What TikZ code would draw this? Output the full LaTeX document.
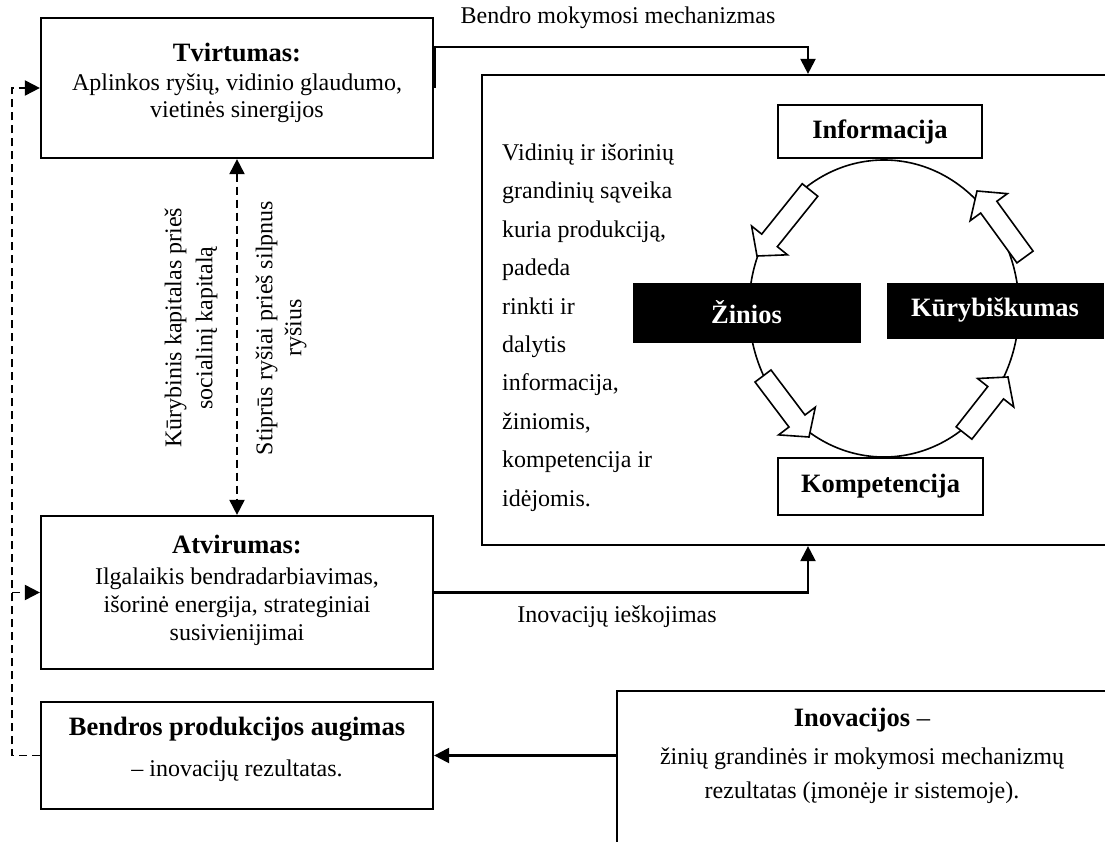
\documentclass[tikz,border=0pt]{standalone}
\usepackage{fontspec}
\setmainfont{Liberation Serif}
\usetikzlibrary{arrows.meta,calc}

% hollow block arrow from tail coordinate #1 to tip coordinate #2
\newcommand\blockarrow[2]{%
  \coordinate (ba-s) at ($(#2)!20pt!(#1)$);
  \draw[blockline]
    ($(#1)!10pt!90:(#2)$) -- ($(ba-s)!10pt!-90:(#1)$) -- ($(ba-s)!23pt!-90:(#1)$) --
    (#2) --
    ($(ba-s)!23pt!90:(#1)$) -- ($(ba-s)!10pt!90:(#1)$) -- ($(#1)!10pt!-90:(#2)$) -- cycle;
}

\begin{document}
\begin{tikzpicture}[x=1pt,y=-1pt,
  box/.style={draw, line width=2.2pt, inner sep=0pt, fill=white},
  darkbox/.style={draw, fill=black, inner sep=0pt, text=white,
    font=\fontsize{26.5}{30}\selectfont\bfseries},
  title/.style={inner sep=0pt, font=\fontsize{26.5}{30}\selectfont\bfseries},
  body/.style={inner sep=0pt, align=center, font=\fontsize{24}{28}\selectfont},
  link/.style={line width=2.2pt},
  dashlink/.style={line width=1.9pt, dash pattern=on 8pt off 5pt},
  blockline/.style={line width=1.6pt, fill=white, line join=miter},
  >={Triangle[length=15pt,width=15pt]}]

\useasboundingbox (0,0) rectangle (1105,842);
\clip (0,0) rectangle (1105,842);

% left column of boxes
\node[box, minimum width=392, minimum height=140] (tv) at (237,88) {};
\node[title] (tvt) at (237,52) {Tvirtumas:};
\node[body] (tvb) at (237,98.5) {Aplinkos ryšių, vidinio glaudumo,\\[-1pt] vietinės sinergijos};

\node[box, minimum width=392, minimum height=153] (at) at (237,592.5) {};
\node[title] (att) at (237,544) {Atvirumas:};
\node[body] (atb) at (237,606.5) {Ilgalaikis bendradarbiavimas,\\ išorinė energija, strateginiai\\ susivienijimai};

\node[box, minimum width=392, minimum height=107] (bp) at (237,755.5) {};
\node[title] (bpt) at (237,729) {Bendros produkcijos augimas};
\node[body] (bpb) at (237,771) {– inovacijų rezultatas.};

% learning system box
\node[box, minimum width=652, minimum height=470] (bb) at (808,310) {};
\node[inner sep=0pt, anchor=west, align=left, font=\fontsize{24}{38.4}\selectfont] (txt) at (502,327.5)
  {Vidinių ir išorinių\\ grandinių sąveika\\ kuria produkciją,\\ padeda\\ rinkti ir\\ dalytis\\ informacija,\\ žiniomis,\\ kompetencija ir\\ idėjomis.};

\draw[line width=1.6pt] (884,308.5) ellipse [x radius=135, y radius=148.5];
\node[box, line width=1.8pt, minimum width=204, minimum height=53, font=\fontsize{26.5}{30}\selectfont\bfseries] (inf) at (880,131.5) {Informacija};
\node[box, line width=1.8pt, minimum width=205, minimum height=57, font=\fontsize{26.5}{30}\selectfont\bfseries] (komp) at (880.5,486.5) {Kompetencija};
\node[darkbox, minimum width=227, minimum height=59] (zin) at (746.5,312.5) {Žinios};
\node[darkbox, minimum width=216, minimum height=55] (kur) at (995,310.5) {Kūrybiškumas};

\coordinate (a1t) at (810,190); \coordinate (a1h) at (757,256);
\coordinate (a2t) at (1025,257); \coordinate (a2h) at (977,191);
\coordinate (a3t) at (763,376); \coordinate (a3h) at (809,437);
\coordinate (a4t) at (964,433); \coordinate (a4h) at (1008,377);
\blockarrow{a1t}{a1h}
\blockarrow{a2t}{a2h}
\blockarrow{a3t}{a3h}
\blockarrow{a4t}{a4h}

% innovation box
\node[box, minimum width=523, minimum height=189] (inov) at (878.5,785.5) {};
\node[inner sep=0pt, font=\fontsize{26.5}{30}\selectfont] (inovt) at (862,720) {\textbf{Inovacijos} –};
\node[body, font=\fontsize{24}{34}\selectfont] (inovb) at (862,776) {žinių grandinės ir mokymosi mechanizmų\\ rezultatas (įmonėje ir sistemoje).};

% connectors
\coordinate (tvout) at ($(tv.north east)+(0,30)$);
\draw[line width=4.5pt] ($(tv.north east)+(0,29)$) -- ($(tv.north east)+(0,71)$);
\draw[link,->] (tvout) -| (bb.north);
\node[body] (bmm) at (618,18) {Bendro mokymosi mechanizmas};

\draw[link,->] (at.east) -| (bb.south);
\node[body] (ii) at (617,617) {Inovacijų ieškojimas};

\draw[link,->] (bp.east -| inov.west) -- (bp.east);

\draw[dashlink,<->] (tv.south) -- (at.north);
\node[body, rotate=90, font=\fontsize{24}{31}\selectfont] (kk) at (191,328) {Kūrybinis kapitalas prieš\\ socialinį kapitalą};
\node[body, rotate=90, font=\fontsize{24}{29}\selectfont] (sr) at (281,328) {Stiprūs ryšiai prieš silpnus\\ ryšius};

\coordinate (fb) at (12,0);
\draw[dashlink,->] (bp.west) -- (bp.west -| fb) -- (tv.west -| fb) -- (tv.west);
\draw[dashlink,->] (at.west -| fb) -- (at.west);
\end{tikzpicture}
\end{document}
